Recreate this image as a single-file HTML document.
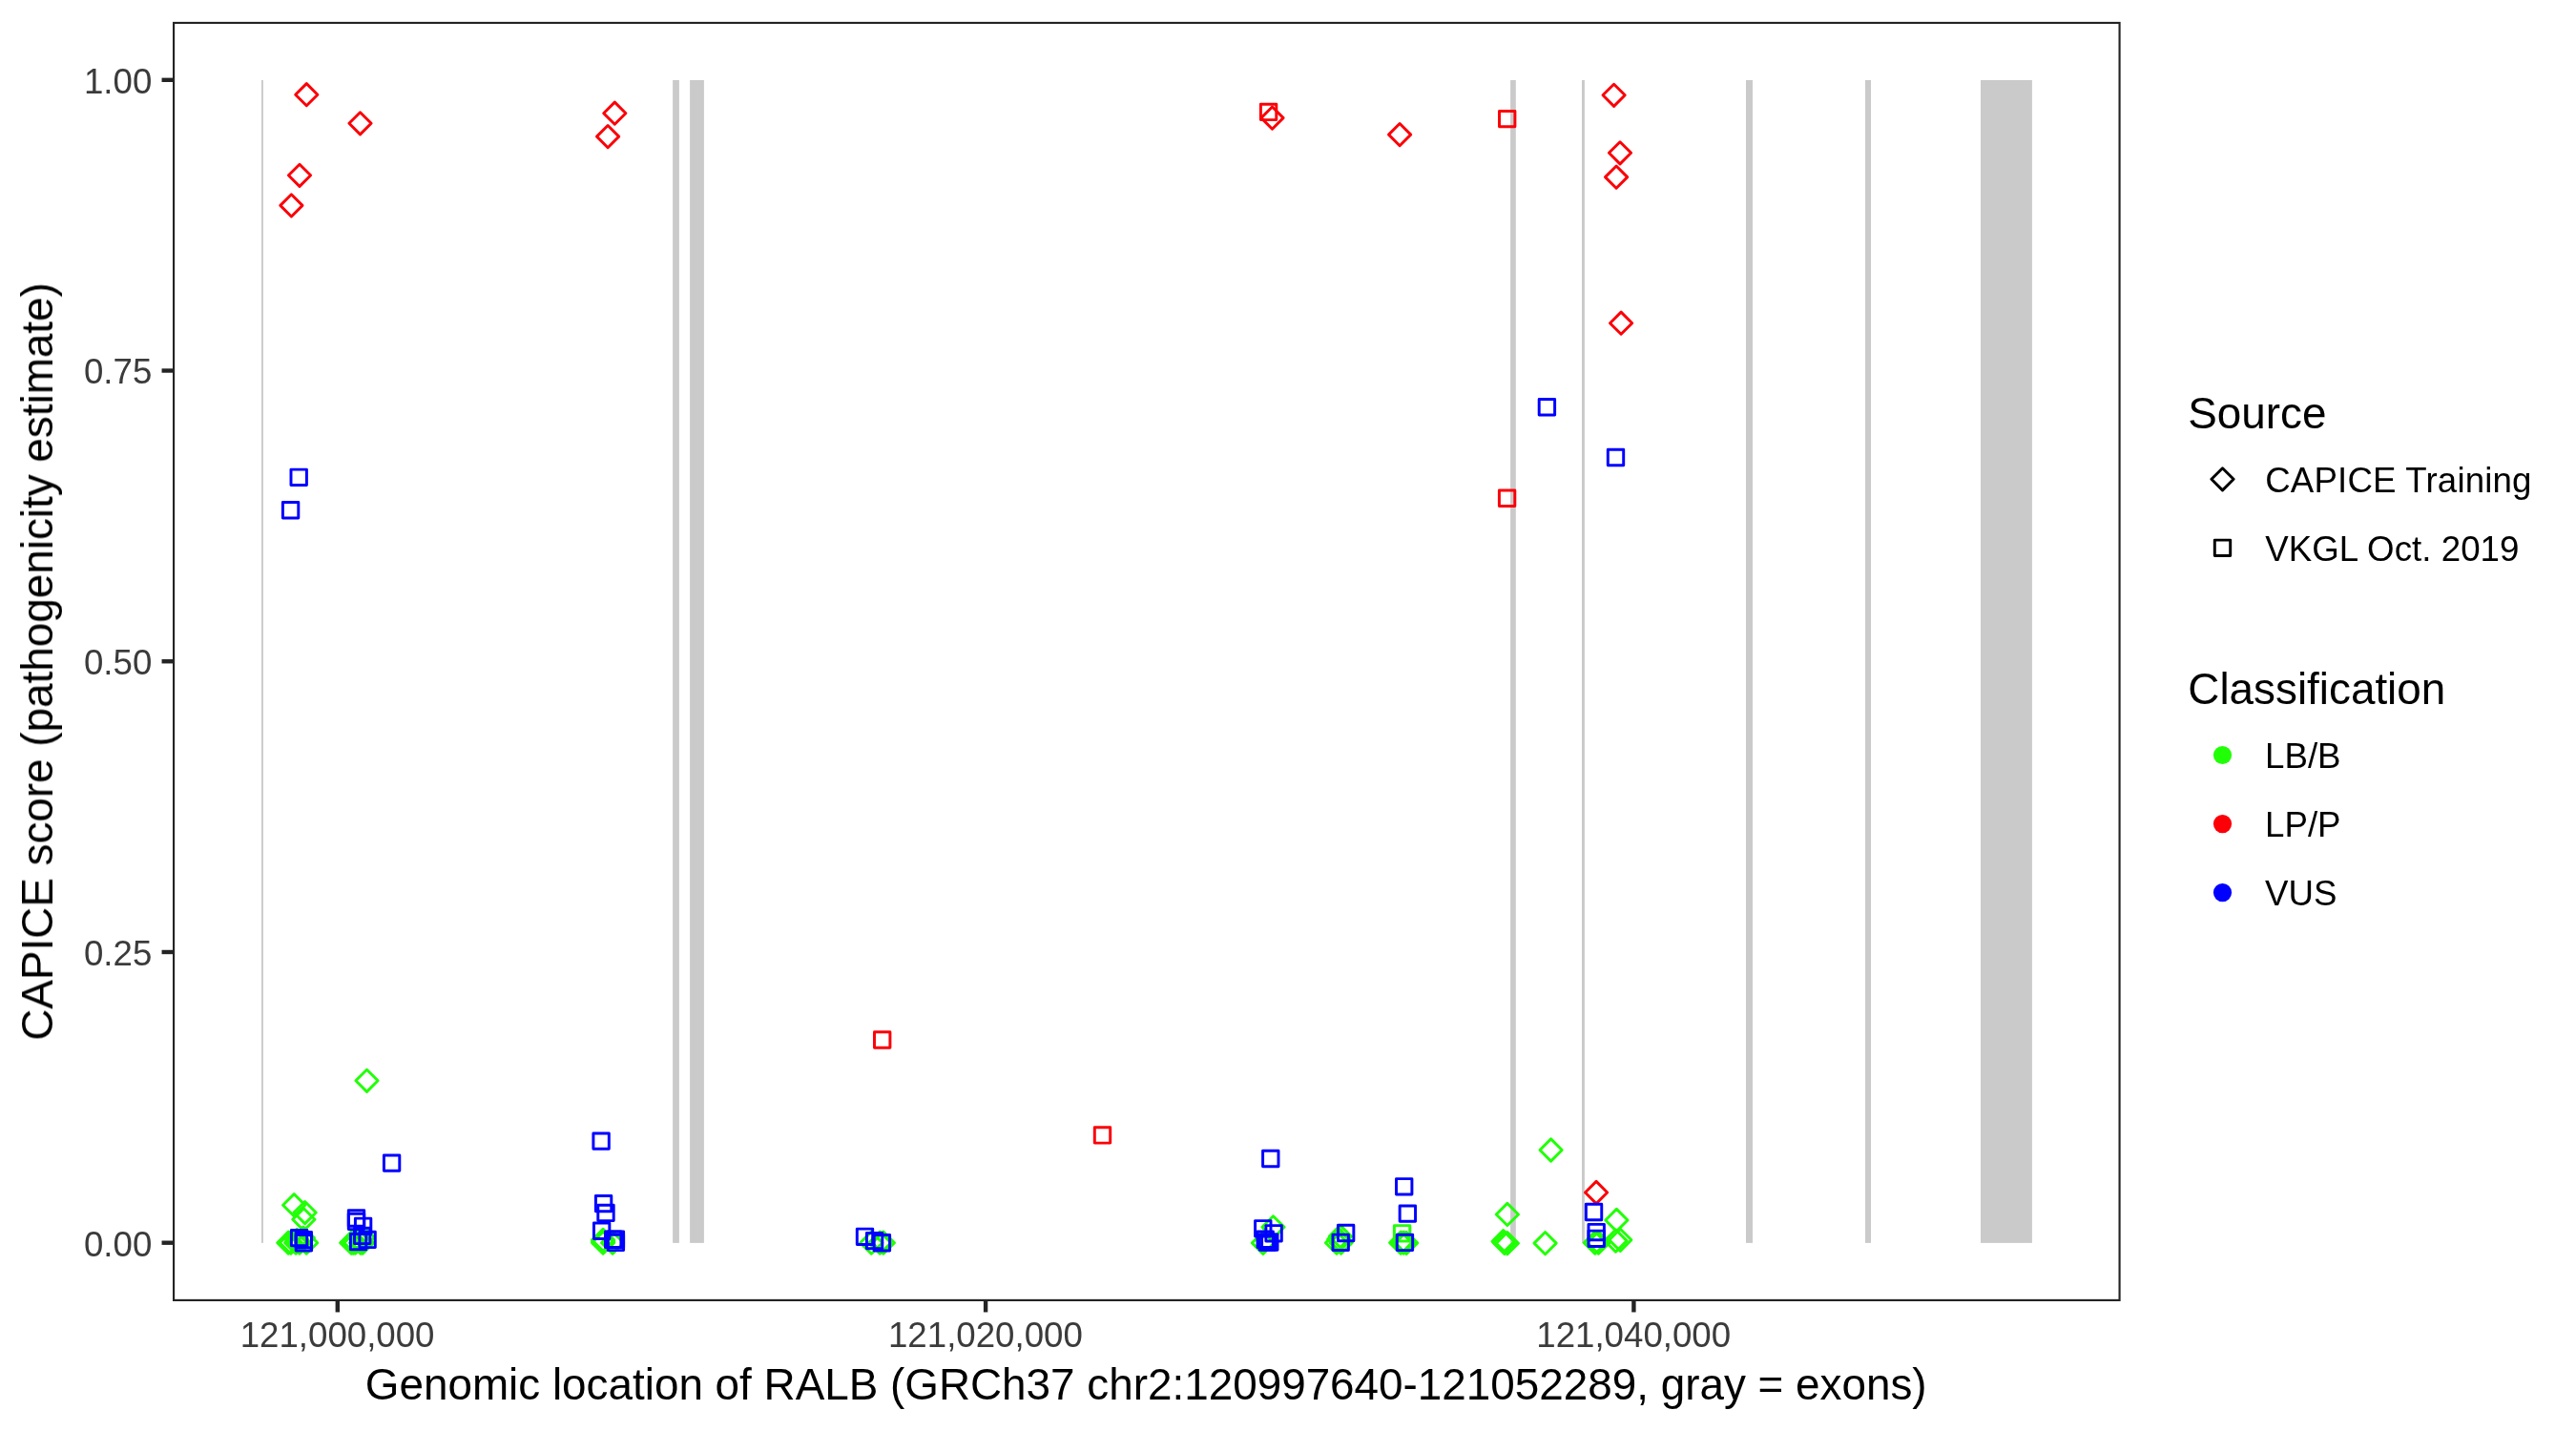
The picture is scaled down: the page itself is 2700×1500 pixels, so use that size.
<!DOCTYPE html>
<html><head><meta charset="utf-8"><title>RALB CAPICE</title>
<style>html,body{margin:0;padding:0;background:#fff;}body{width:2700px;height:1500px;overflow:hidden;}svg{display:block;}text{font-family:"Liberation Sans",sans-serif;}</style></head><body>
<svg width="2700" height="1500" viewBox="0 0 2700 1500">
<rect x="0" y="0" width="2700" height="1500" fill="#FFFFFF"/>
<g fill="#CACACA" shape-rendering="geometricPrecision">
<rect x="274.00" y="84.00" width="1.90" height="1218.90"/>
<rect x="705.10" y="84.00" width="6.80" height="1218.90"/>
<rect x="723.10" y="84.00" width="14.80" height="1218.90"/>
<rect x="1583.10" y="84.00" width="5.70" height="1218.90"/>
<rect x="1658.00" y="84.00" width="2.90" height="1218.90"/>
<rect x="1830.00" y="84.00" width="7.00" height="1218.90"/>
<rect x="1955.00" y="84.00" width="6.00" height="1218.90"/>
<rect x="2076.00" y="84.00" width="53.90" height="1218.90"/>
</g>
<g fill="none" stroke-width="2.95" stroke-linejoin="round">
<path stroke="#FB0007" d="M309.70 99.20L321.30 87.60L332.90 99.20L321.30 110.80Z"/>
<path stroke="#FB0007" d="M365.90 129.30L377.50 117.70L389.10 129.30L377.50 140.90Z"/>
<path stroke="#FB0007" d="M632.70 118.70L644.30 107.10L655.90 118.70L644.30 130.30Z"/>
<path stroke="#FB0007" d="M625.50 143.10L637.10 131.50L648.70 143.10L637.10 154.70Z"/>
<path stroke="#FB0007" d="M302.40 183.80L314.00 172.20L325.60 183.80L314.00 195.40Z"/>
<path stroke="#FB0007" d="M293.80 215.40L305.40 203.80L317.00 215.40L305.40 227.00Z"/>
<path stroke="#FB0007" d="M1321.90 123.60L1333.50 112.00L1345.10 123.60L1333.50 135.20Z"/>
<path stroke="#FB0007" d="M1455.50 141.10L1467.10 129.50L1478.70 141.10L1467.10 152.70Z"/>
<path stroke="#FB0007" d="M1680.00 99.80L1691.60 88.20L1703.20 99.80L1691.60 111.40Z"/>
<path stroke="#FB0007" d="M1686.40 160.30L1698.00 148.70L1709.60 160.30L1698.00 171.90Z"/>
<path stroke="#FB0007" d="M1682.50 185.60L1694.10 174.00L1705.70 185.60L1694.10 197.20Z"/>
<path stroke="#FB0007" d="M1687.50 338.70L1699.10 327.10L1710.70 338.70L1699.10 350.30Z"/>
<path stroke="#FB0007" d="M1661.50 1250.00L1673.10 1238.40L1684.70 1250.00L1673.10 1261.60Z"/>
<path stroke="#21FF06" d="M372.90 1132.80L384.50 1121.20L396.10 1132.80L384.50 1144.40Z"/>
<path stroke="#21FF06" d="M296.60 1263.20L308.20 1251.60L319.80 1263.20L308.20 1274.80Z"/>
<path stroke="#21FF06" d="M308.00 1271.05L319.60 1259.45L331.20 1271.05L319.60 1282.65Z"/>
<path stroke="#21FF06" d="M306.80 1278.30L318.40 1266.70L330.00 1278.30L318.40 1289.90Z"/>
<path stroke="#21FF06" d="M290.70 1302.70L302.30 1291.10L313.90 1302.70L302.30 1314.30Z"/>
<path stroke="#21FF06" d="M293.30 1302.70L304.90 1291.10L316.50 1302.70L304.90 1314.30Z"/>
<path stroke="#21FF06" d="M298.60 1302.70L310.20 1291.10L321.80 1302.70L310.20 1314.30Z"/>
<path stroke="#21FF06" d="M302.40 1302.70L314.00 1291.10L325.60 1302.70L314.00 1314.30Z"/>
<path stroke="#21FF06" d="M309.60 1302.70L321.20 1291.10L332.80 1302.70L321.20 1314.30Z"/>
<path stroke="#21FF06" d="M306.20 1297.60L317.80 1286.00L329.40 1297.60L317.80 1309.20Z"/>
<path stroke="#21FF06" d="M299.60 1299.80L311.20 1288.20L322.80 1299.80L311.20 1311.40Z"/>
<path stroke="#21FF06" d="M356.60 1302.70L368.20 1291.10L379.80 1302.70L368.20 1314.30Z"/>
<path stroke="#21FF06" d="M358.70 1302.70L370.30 1291.10L381.90 1302.70L370.30 1314.30Z"/>
<path stroke="#21FF06" d="M360.80 1302.70L372.40 1291.10L384.00 1302.70L372.40 1314.30Z"/>
<path stroke="#21FF06" d="M366.40 1302.70L378.00 1291.10L389.60 1302.70L378.00 1314.30Z"/>
<path stroke="#21FF06" d="M368.50 1302.70L380.10 1291.10L391.70 1302.70L380.10 1314.30Z"/>
<path stroke="#21FF06" d="M369.20 1297.00L380.80 1285.40L392.40 1297.00L380.80 1308.60Z"/>
<path stroke="#21FF06" d="M620.50 1299.80L632.10 1288.20L643.70 1299.80L632.10 1311.40Z"/>
<path stroke="#21FF06" d="M620.50 1301.20L632.10 1289.60L643.70 1301.20L632.10 1312.80Z"/>
<path stroke="#21FF06" d="M620.50 1302.70L632.10 1291.10L643.70 1302.70L632.10 1314.30Z"/>
<path stroke="#21FF06" d="M630.50 1302.70L642.10 1291.10L653.70 1302.70L642.10 1314.30Z"/>
<path stroke="#21FF06" d="M901.70 1302.70L913.30 1291.10L924.90 1302.70L913.30 1314.30Z"/>
<path stroke="#21FF06" d="M910.70 1302.70L922.30 1291.10L933.90 1302.70L922.30 1314.30Z"/>
<path stroke="#21FF06" d="M914.30 1302.70L925.90 1291.10L937.50 1302.70L925.90 1314.30Z"/>
<path stroke="#21FF06" d="M1322.90 1286.30L1334.50 1274.70L1346.10 1286.30L1334.50 1297.90Z"/>
<path stroke="#21FF06" d="M1312.30 1302.90L1323.90 1291.30L1335.50 1302.90L1323.90 1314.50Z"/>
<path stroke="#21FF06" d="M1389.40 1302.70L1401.00 1291.10L1412.60 1302.70L1401.00 1314.30Z"/>
<path stroke="#21FF06" d="M1394.00 1302.70L1405.60 1291.10L1417.20 1302.70L1405.60 1314.30Z"/>
<path stroke="#21FF06" d="M1393.20 1296.00L1404.80 1284.40L1416.40 1296.00L1404.80 1307.60Z"/>
<path stroke="#21FF06" d="M1391.60 1299.00L1403.20 1287.40L1414.80 1299.00L1403.20 1310.60Z"/>
<path stroke="#21FF06" d="M1456.60 1302.60L1468.20 1291.00L1479.80 1302.60L1468.20 1314.20Z"/>
<path stroke="#21FF06" d="M1459.60 1302.70L1471.20 1291.10L1482.80 1302.70L1471.20 1314.30Z"/>
<path stroke="#21FF06" d="M1462.50 1302.90L1474.10 1291.30L1485.70 1302.90L1474.10 1314.50Z"/>
<path stroke="#21FF06" d="M1614.00 1205.50L1625.60 1193.90L1637.20 1205.50L1625.60 1217.10Z"/>
<path stroke="#21FF06" d="M1568.25 1272.95L1579.85 1261.35L1591.45 1272.95L1579.85 1284.55Z"/>
<path stroke="#21FF06" d="M1564.00 1301.20L1575.60 1289.60L1587.20 1301.20L1575.60 1312.80Z"/>
<path stroke="#21FF06" d="M1565.30 1302.80L1576.90 1291.20L1588.50 1302.80L1576.90 1314.40Z"/>
<path stroke="#21FF06" d="M1568.30 1303.20L1579.90 1291.60L1591.50 1303.20L1579.90 1314.80Z"/>
<path stroke="#21FF06" d="M1608.00 1303.10L1619.60 1291.50L1631.20 1303.10L1619.60 1314.70Z"/>
<path stroke="#21FF06" d="M1660.20 1302.70L1671.80 1291.10L1683.40 1302.70L1671.80 1314.30Z"/>
<path stroke="#21FF06" d="M1663.80 1302.70L1675.40 1291.10L1687.00 1302.70L1675.40 1314.30Z"/>
<path stroke="#21FF06" d="M1682.80 1279.00L1694.40 1267.40L1706.00 1279.00L1694.40 1290.60Z"/>
<path stroke="#21FF06" d="M1681.90 1300.60L1693.50 1289.00L1705.10 1300.60L1693.50 1312.20Z"/>
<path stroke="#21FF06" d="M1686.70 1299.80L1698.30 1288.20L1709.90 1299.80L1698.30 1311.40Z"/>
<rect stroke="#21FF06" x="1461.40" y="1284.60" width="16.40" height="16.40"/>
<rect stroke="#FB0007" x="1321.40" y="109.20" width="16.40" height="16.40"/>
<rect stroke="#FB0007" x="1571.50" y="116.40" width="16.40" height="16.40"/>
<rect stroke="#FB0007" x="1571.40" y="514.00" width="16.40" height="16.40"/>
<rect stroke="#FB0007" x="916.50" y="1081.80" width="16.40" height="16.40"/>
<rect stroke="#FB0007" x="1147.30" y="1181.70" width="16.40" height="16.40"/>
<rect stroke="#0000FF" x="305.00" y="492.10" width="16.40" height="16.40"/>
<rect stroke="#0000FF" x="296.40" y="526.50" width="16.40" height="16.40"/>
<rect stroke="#0000FF" x="402.40" y="1210.90" width="16.40" height="16.40"/>
<rect stroke="#0000FF" x="305.40" y="1289.40" width="16.40" height="16.40"/>
<rect stroke="#0000FF" x="310.10" y="1291.40" width="16.40" height="16.40"/>
<rect stroke="#0000FF" x="310.20" y="1294.50" width="16.40" height="16.40"/>
<rect stroke="#0000FF" x="365.30" y="1268.80" width="16.40" height="16.40"/>
<rect stroke="#0000FF" x="365.30" y="1272.20" width="16.40" height="16.40"/>
<rect stroke="#0000FF" x="372.40" y="1277.10" width="16.40" height="16.40"/>
<rect stroke="#0000FF" x="371.50" y="1287.20" width="16.40" height="16.40"/>
<rect stroke="#0000FF" x="376.90" y="1291.20" width="16.40" height="16.40"/>
<rect stroke="#0000FF" x="367.40" y="1293.40" width="16.40" height="16.40"/>
<rect stroke="#0000FF" x="621.90" y="1187.90" width="16.40" height="16.40"/>
<rect stroke="#0000FF" x="624.40" y="1253.40" width="16.40" height="16.40"/>
<rect stroke="#0000FF" x="626.80" y="1263.20" width="16.40" height="16.40"/>
<rect stroke="#0000FF" x="622.45" y="1282.05" width="16.40" height="16.40"/>
<rect stroke="#0000FF" x="634.50" y="1291.05" width="16.40" height="16.40"/>
<rect stroke="#0000FF" x="637.20" y="1291.05" width="16.40" height="16.40"/>
<rect stroke="#0000FF" x="637.20" y="1294.20" width="16.40" height="16.40"/>
<rect stroke="#0000FF" x="898.30" y="1288.10" width="16.40" height="16.40"/>
<rect stroke="#0000FF" x="908.40" y="1292.40" width="16.40" height="16.40"/>
<rect stroke="#0000FF" x="916.20" y="1294.50" width="16.40" height="16.40"/>
<rect stroke="#0000FF" x="1323.60" y="1206.30" width="16.40" height="16.40"/>
<rect stroke="#0000FF" x="1315.60" y="1279.60" width="16.40" height="16.40"/>
<rect stroke="#0000FF" x="1326.90" y="1284.60" width="16.40" height="16.40"/>
<rect stroke="#0000FF" x="1318.00" y="1291.00" width="16.40" height="16.40"/>
<rect stroke="#0000FF" x="1320.10" y="1293.90" width="16.40" height="16.40"/>
<rect stroke="#0000FF" x="1322.60" y="1293.90" width="16.40" height="16.40"/>
<rect stroke="#0000FF" x="1402.45" y="1284.30" width="16.40" height="16.40"/>
<rect stroke="#0000FF" x="1397.00" y="1294.10" width="16.40" height="16.40"/>
<rect stroke="#0000FF" x="1463.50" y="1235.60" width="16.40" height="16.40"/>
<rect stroke="#0000FF" x="1467.15" y="1263.90" width="16.40" height="16.40"/>
<rect stroke="#0000FF" x="1464.25" y="1294.20" width="16.40" height="16.40"/>
<rect stroke="#0000FF" x="1613.20" y="418.50" width="16.40" height="16.40"/>
<rect stroke="#0000FF" x="1685.30" y="471.30" width="16.40" height="16.40"/>
<rect stroke="#0000FF" x="1662.35" y="1262.30" width="16.40" height="16.40"/>
<rect stroke="#0000FF" x="1665.00" y="1283.35" width="16.40" height="16.40"/>
<rect stroke="#0000FF" x="1665.00" y="1290.10" width="16.40" height="16.40"/>
</g>
<rect x="182.07" y="23.97" width="2039.50" height="1338.95" fill="none" stroke="#242424" stroke-width="2.15"/>
<g stroke="#242424" stroke-width="4.40">
<line x1="169.54" y1="1302.70" x2="181.00" y2="1302.70"/>
<line x1="169.54" y1="997.98" x2="181.00" y2="997.98"/>
<line x1="169.54" y1="693.25" x2="181.00" y2="693.25"/>
<line x1="169.54" y1="388.52" x2="181.00" y2="388.52"/>
<line x1="169.54" y1="83.80" x2="181.00" y2="83.80"/>
<line x1="353.80" y1="1364.00" x2="353.80" y2="1375.46"/>
<line x1="1033.10" y1="1364.00" x2="1033.10" y2="1375.46"/>
<line x1="1712.40" y1="1364.00" x2="1712.40" y2="1375.46"/>
</g>
<g fill="#3B3B3B" font-size="36.67px" style="filter:opacity(1)">
<text x="159.30" y="1316.60" text-anchor="end">0.00</text>
<text x="159.30" y="1011.88" text-anchor="end">0.25</text>
<text x="159.30" y="707.15" text-anchor="end">0.50</text>
<text x="159.30" y="402.42" text-anchor="end">0.75</text>
<text x="159.30" y="97.70" text-anchor="end">1.00</text>
<text x="353.60" y="1412.20" text-anchor="middle">121,000,000</text>
<text x="1032.90" y="1412.20" text-anchor="middle">121,020,000</text>
<text x="1712.20" y="1412.20" text-anchor="middle">121,040,000</text>
</g>
<g fill="#000000" font-size="45.83px" style="filter:opacity(1)">
<text x="1201.23" y="1467.00" text-anchor="middle">Genomic location of RALB (GRCh37 chr2:120997640-121052289, gray = exons)</text>
<text transform="translate(55.00,693.45) rotate(-90)" text-anchor="middle">CAPICE score (pathogenicity estimate)</text>
<text x="2293.3" y="449.0">Source</text>
<text x="2293.3" y="737.7">Classification</text>
</g>
<g fill="#000000" font-size="36.67px" style="filter:opacity(1)">
<text x="2374.20" y="516.00" letter-spacing="0.16">CAPICE Training</text>
<text x="2374.30" y="588.00" letter-spacing="0.04">VKGL Oct. 2019</text>
<text x="2374.10" y="804.70" letter-spacing="0.00">LB/B</text>
<text x="2374.10" y="876.70" letter-spacing="0.00">LP/P</text>
<text x="2374.10" y="948.70" letter-spacing="0.00">VUS</text>
</g>
<g fill="none" stroke="#000000" stroke-width="2.95" stroke-linejoin="round">
<path d="M2317.90 502.30L2329.50 490.70L2341.10 502.30L2329.50 513.90Z"/>
<rect x="2321.30" y="566.10" width="16.40" height="16.40"/>
</g>
<circle cx="2329.50" cy="791.50" r="9.6" fill="#21FF06"/>
<circle cx="2329.50" cy="863.60" r="9.6" fill="#FB0007"/>
<circle cx="2329.50" cy="935.60" r="9.6" fill="#0000FF"/>
</svg></body></html>
